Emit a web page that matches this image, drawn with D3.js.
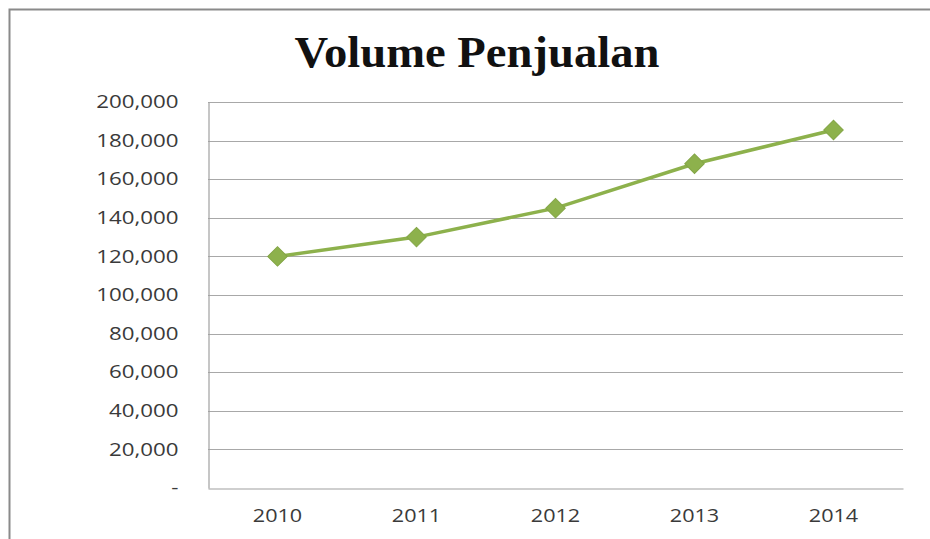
<!DOCTYPE html>
<html>
<head>
<meta charset="utf-8">
<script src="https://cdn.jsdelivr.net/npm/d3@7"></script>
<style>
  html, body { margin: 0; padding: 0; background: #fff; }
  svg { display: block; }
</style>
</head>
<body>
<script>
// Sales volume per year
const years = ["2010", "2011", "2012", "2013", "2014"];
const volumes = [120000, 130000, 145000, 168000, 185500];
const yTicks = [0, 20000, 40000, 60000, 80000, 100000, 120000, 140000, 160000, 180000, 200000];
const chartTitle = "Volume Penjualan";

const W = 930, H = 539;
const margin = { left: 208, right: 27, top: 102, bottom: 51 };
const labelFont = "'Open Sans', 'Liberation Sans', sans-serif";
const labelStretch = 1.24;

const svg = d3.select("body").append("svg")
  .attr("width", W).attr("height", H);

// chart frame
svg.append("path")
  .attr("d", `M9.5,${H} V9.5 H${W}`)
  .attr("fill", "none")
  .attr("stroke", "#8a8a8a")
  .attr("stroke-width", 2);

svg.append("g")
  .attr("transform", "translate(477,67) scale(1.06,1)")
  .append("text")
  .attr("text-anchor", "middle")
  .attr("font-family", "'Liberation Serif', 'Times New Roman', serif")
  .attr("font-weight", "bold")
  .attr("font-size", 44)
  .attr("fill", "#111")
  .text(chartTitle);

const x = d3.scaleBand().domain(years)
  .range([margin.left, W - margin.right]);
const y = d3.scaleLinear().domain([0, 200000])
  .range([H - margin.bottom, margin.top]);

// horizontal gridlines
svg.append("g")
  .selectAll("line")
  .data(yTicks.filter(d => d > 0))
  .join("line")
  .attr("x1", margin.left).attr("x2", W - margin.right)
  .attr("y1", d => Math.round(y(d)) + 0.5).attr("y2", d => Math.round(y(d)) + 0.5)
  .attr("stroke", "#a8a8a8")
  .attr("stroke-width", 1.2);

// y axis
const fmt = d3.format(",");
const yPad = 30;
const yAxis = svg.append("g")
  .attr("transform", `translate(${margin.left + 0.5},0)`)
  .call(d3.axisLeft(y).tickValues(yTicks).tickSize(0).tickPadding(yPad)
    .tickFormat(d => d === 0 ? "-" : fmt(d)));
yAxis.select(".domain").attr("stroke", "#a0a0a0").attr("stroke-width", 1.2);
yAxis.selectAll("text")
  .attr("font-family", labelFont)
  .attr("font-size", 18)
  .attr("fill", "#3a3a3a")
  .attr("x", -yPad / labelStretch)
  .attr("transform", `scale(${labelStretch},1)`);

// x axis
const xAxis = svg.append("g")
  .attr("transform", `translate(0,${Math.round(y(0)) + 0.5})`)
  .call(d3.axisBottom(x).tickSize(0).tickPadding(21));
xAxis.select(".domain").attr("stroke", "#a0a0a0").attr("stroke-width", 1.2);
xAxis.selectAll("text")
  .attr("font-family", labelFont)
  .attr("font-size", 18)
  .attr("fill", "#3a3a3a")
  .attr("transform", `scale(1.2,1)`);

const pts = years.map((yr, i) => [x(yr) + x.bandwidth() / 2, y(volumes[i])]);

svg.append("path")
  .datum(pts)
  .attr("d", d3.line())
  .attr("fill", "none")
  .attr("stroke", "#8db14c")
  .attr("stroke-width", 3.5);

// diamond markers (rotated squares)
svg.append("g")
  .selectAll("path")
  .data(pts)
  .join("path")
  .attr("transform", d => `translate(${d[0]},${d[1]}) rotate(45)`)
  .attr("d", d3.symbol().type(d3.symbolSquare).size(190))
  .attr("fill", "#8db14c")
  .attr("stroke", "#83a546")
  .attr("stroke-width", 1);
</script>
</body>
</html>
